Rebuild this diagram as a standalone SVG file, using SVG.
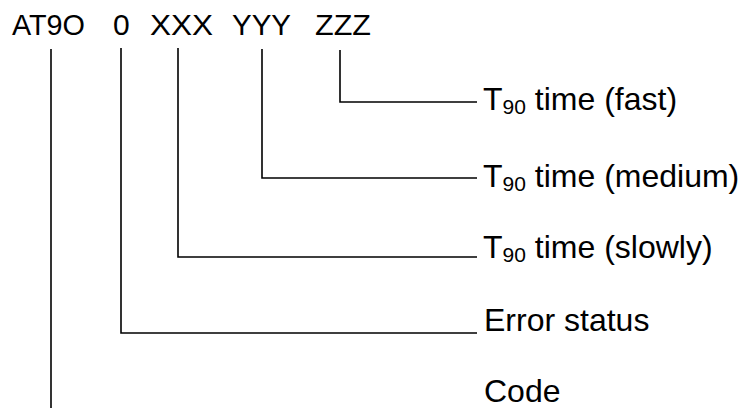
<svg xmlns="http://www.w3.org/2000/svg" width="744" height="408" viewBox="0 0 744 408">
<style>
text{font-family:"Liberation Sans",Arial,sans-serif;fill:#000}
.t{font-size:30px}
.l{font-size:32px}
.s{font-size:21px}
.c{fill:none;stroke:#000;stroke-width:1.6}
</style>
<rect width="744" height="408" fill="#fff"/>
<g id="code-string">
<text class="t" x="12" y="35" textLength="73" lengthAdjust="spacingAndGlyphs">AT9O</text>
<text class="t" x="113" y="35">0</text>
<text class="t" x="150" y="35" textLength="63" lengthAdjust="spacingAndGlyphs">XXX</text>
<text class="t" x="232" y="35" textLength="59" lengthAdjust="spacingAndGlyphs">YYY</text>
<text class="t" x="315" y="35" textLength="56" lengthAdjust="spacingAndGlyphs">ZZZ</text>
</g>
<g id="connectors">
<path class="c" d="M340,50 V102 H477"/>
<path class="c" d="M262,49 V178 H477"/>
<path class="c" d="M178,48 V257 H477"/>
<path class="c" d="M121,48 V333 H477"/>
<path class="c" d="M51,49 V408"/>
</g>
<g id="label-fast"><text class="l" x="483" y="110">T<tspan class="s" dy="4">90</tspan><tspan dy="-4"> time (fast)</tspan></text></g>
<g id="label-medium"><text class="l" x="483" y="187">T<tspan class="s" dy="4">90</tspan><tspan dy="-4"> time (medium)</tspan></text></g>
<g id="label-slowly"><text class="l" x="483" y="258">T<tspan class="s" dy="4">90</tspan><tspan dy="-4"> time (slowly)</tspan></text></g>
<g id="label-error"><text class="l" x="484" y="331">Error status</text></g>
<g id="label-code"><text class="l" x="484" y="402">Code</text></g>
</svg>
